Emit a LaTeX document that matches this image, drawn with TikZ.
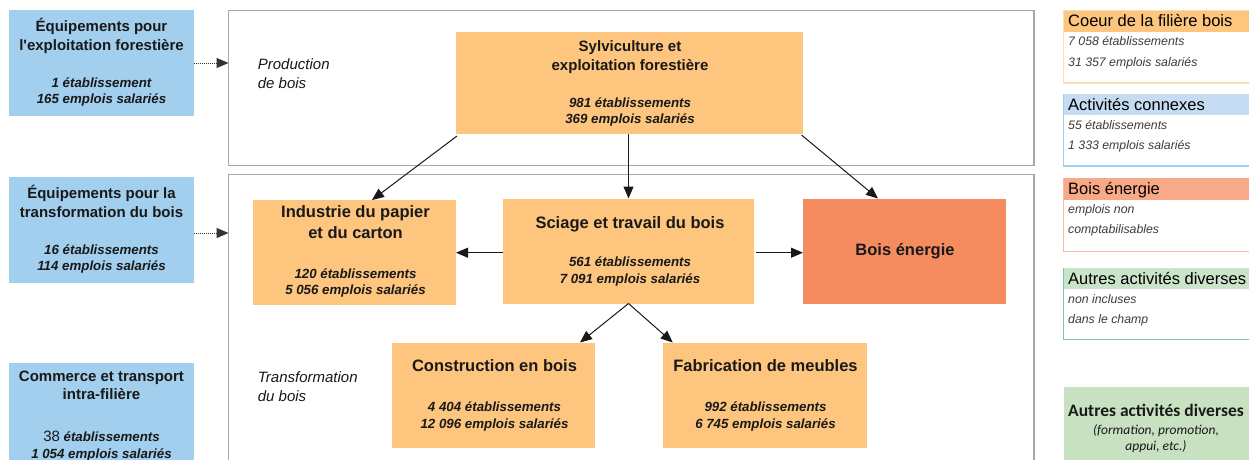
\documentclass[tikz,border=0pt]{standalone}
\usepackage{fontspec}
\setmainfont{Liberation Sans}
\newfontfamily\myriadlike{Carlito}
\usetikzlibrary{arrows.meta}
\definecolor{orbox}{RGB}{253,197,125}
\definecolor{enbox}{RGB}{244,140,95}
\definecolor{blbox}{RGB}{162,207,238}
\definecolor{grbox}{RGB}{199,225,193}
\definecolor{framegray}{RGB}{168,168,168}
\definecolor{lgorbd}{RGB}{252,219,185}
\definecolor{lgblhd}{RGB}{197,220,242}
\definecolor{lgblbd}{RGB}{160,208,240}
\definecolor{lgenhd}{RGB}{248,169,135}
\definecolor{lgenbd}{RGB}{250,185,165}
\definecolor{lggrhd}{RGB}{202,228,202}
\definecolor{lggrbd}{RGB}{125,200,180}
\definecolor{txtdark}{RGB}{25,25,25}
\definecolor{lgtxt}{RGB}{60,60,60}
\tikzset{
  box/.style={draw=none, inner sep=0pt, outer sep=0pt},
  framebox/.style={draw=framegray, line width=1.2pt, inner sep=0pt, outer sep=0pt},
  hd/.style={anchor=base, inner sep=0pt, text=txtdark, font=\fontsize{16.5}{19}\selectfont\bfseries},
  hds/.style={anchor=base, inner sep=0pt, text=txtdark, font=\fontsize{15}{18}\selectfont\bfseries},
  num/.style={anchor=base, inner sep=0pt, text=txtdark, font=\fontsize{13.3}{16}\selectfont\bfseries\itshape},
  lab/.style={anchor=base west, inner sep=0pt, text=txtdark, font=\fontsize{15}{18}\selectfont\itshape},
  lghd/.style={anchor=base west, inner sep=0pt, text=black, font=\fontsize{16.5}{19}\selectfont},
  lgtx/.style={anchor=base west, inner sep=0pt, text=lgtxt, font=\fontsize{12.3}{14}\selectfont\itshape},
  lgbody/.style={fill=white, line width=1.1pt, inner sep=0pt, outer sep=0pt},
  arr/.style={-{Triangle[length=12pt,width=10pt]}, line width=1pt, draw=black!90},
  darr/.style={-{Triangle[length=12pt,width=10pt]}, line width=1pt, draw=black!80, dash pattern=on 1pt off 1pt}
}
\begin{document}
\begin{tikzpicture}[x=1pt,y=-1pt]
\useasboundingbox (0,0) rectangle (1249,459);
\clip (0,0) rectangle (1249,459);
\fill[white] (0,0) rectangle (1249,459);

% frames
\node[framebox, minimum width=805.5pt, minimum height=155pt] (prod) at (631.25,88) {};
\node[framebox, minimum width=805.5pt, minimum height=325.5pt] (trans) at (631.25,337.25) {};
\node[lab] (prodl1) at (257.7,69.3) {Production};
\node[lab] (prodl2) at (257.7,88.3) {de bois};
\node[lab] (transl1) at (257.7,382) {Transformation};
\node[lab] (transl2) at (257.7,401) {du bois};

% left blue boxes
\node[box, fill=blbox, minimum width=185pt, minimum height=106pt] (L1) at (101.5,63) {};
\node[hds] (L1a) at (101.5,31.7) {Équipements pour};
\node[hds] (L1b) at (101.5,50.3) {l\textquotesingle exploitation forestière};
\node[num] (L1c) at (101.5,87.3) {1 établissement};
\node[num] (L1d) at (101.5,103.3) {165 emplois salariés};

\node[box, fill=blbox, minimum width=185pt, minimum height=106pt] (L2) at (101.5,230) {};
\node[hds] (L2a) at (101.5,198.3) {Équipements pour la};
\node[hds] (L2b) at (101.5,217.3) {transformation du bois};
\node[num] (L2c) at (101.5,254.3) {16 établissements};
\node[num] (L2d) at (101.5,270.7) {114 emplois salariés};

\node[box, fill=blbox, minimum width=185pt, minimum height=106pt] (L3) at (101.5,416) {};
\node[hds] (L3a) at (101.5,381) {Commerce et transport};
\node[hds] (L3b) at (101.5,399.5) {intra-filière};
\node[num] (L3c) at (101.5,441.5) {{\fontsize{15}{18}\selectfont\mdseries\upshape 38} établissements};
\node[num] (L3d) at (101.5,458.5) {1 054 emplois salariés};

\draw[darr] (L1.east) -- (L1.east -| prod.west);
\draw[darr] ([yshift=-3pt]L2.east) -- ([yshift=-3pt]L2.east -| trans.west);

% central boxes
\node[box, fill=orbox, minimum width=347pt, minimum height=102pt] (sylv) at (629.5,83) {};
\node[hds] (sylva) at (630,51.3) {Sylviculture et};
\node[hds] (sylvb) at (630,70) {exploitation forestière};
\node[num] (sylvc) at (630,107.7) {981 établissements};
\node[num] (sylvd) at (630,123.3) {369 emplois salariés};

\node[box, fill=orbox, minimum width=203pt, minimum height=105pt] (ind) at (354.5,252.5) {};
\node[hd] (inda) at (355.5,217.3) {Industrie du papier};
\node[hd] (indb) at (355.5,238.3) {et du carton};
\node[num] (indc) at (355.5,278.3) {120 établissements};
\node[num] (indd) at (355.5,294.3) {5 056 emplois salariés};

\node[box, fill=orbox, minimum width=251pt, minimum height=105pt] (sci) at (628.5,251) {};
\node[hd] (scia) at (630,228.3) {Sciage et travail du bois};
\node[num] (scic) at (630,266.7) {561 établissements};
\node[num] (scid) at (630,283.3) {7 091 emplois salariés};

\node[box, fill=enbox, minimum width=203pt, minimum height=105pt] (en) at (904.5,251) {};
\node[hd] (ena) at (905,255) {Bois énergie};

\node[box, fill=orbox, minimum width=203pt, minimum height=105pt] (con) at (493.5,395) {};
\node[hd] (cona) at (494.5,371.7) {Construction en bois};
\node[num] (conc) at (494.5,411.7) {4 404 établissements};
\node[num] (cond) at (494.5,428.3) {12 096 emplois salariés};

\node[box, fill=orbox, minimum width=203.5pt, minimum height=105pt] (fab) at (764.75,395) {};
\node[hd] (faba) at (765.5,371.7) {Fabrication de meubles};
\node[num] (fabc) at (765.5,411.7) {992 établissements};
\node[num] (fabd) at (765.5,428.3) {6 745 emplois salariés};

% arrows
\draw[arr] ([xshift=1pt,yshift=-2pt]sylv.south west) -- ([xshift=17.5pt]ind.north);
\draw[arr] (sylv.south -| sci.north) -- (sci.north);
\draw[arr] ([xshift=-1.5pt,yshift=-1pt]sylv.south east) -- ([xshift=-26.5pt]en.north);
\draw[arr] ([yshift=-1.7pt]sci.west) -- ([yshift=-1.7pt]sci.west -| ind.east);
\draw[arr] ([xshift=2pt,yshift=-1.7pt]sci.east) -- ([yshift=-1.7pt]sci.east -| en.west);
\draw[arr] (sci.south) -- ([xshift=86.5pt]con.north);
\draw[arr] (sci.south) -- ([xshift=-92pt]fab.north);

% legend
\node[lgbody, draw=lgorbd, minimum width=190pt, minimum height=72pt] (lg1) at (1158.5,47) {};
\fill[orbox] (1063.5,11) rectangle (1253.5,32);
\node[lghd] (lg1h) at (1068,26.7) {Coeur de la filière bois};
\node[lgtx] (lg1a) at (1068,45.7) {7 058 établissements};
\node[lgtx] (lg1b) at (1068,66.7) {31 357 emplois salariés};

\node[lgbody, draw=lgblbd, minimum width=190pt, minimum height=71.5pt] (lg2) at (1158.5,130.25) {};
\fill[lgblhd] ([shift={(0.55pt,0.55pt)}]lg2.north west) rectangle (1253.5,115);
\node[lghd] (lg2h) at (1068,110) {Activités connexes};
\node[lgtx] (lg2a) at (1068,129.3) {55 établissements};
\node[lgtx] (lg2b) at (1068,149.3) {1 333 emplois salariés};

\node[lgbody, draw=lgenbd, minimum width=190pt, minimum height=73pt] (lg3) at (1158.5,215) {};
\fill[lgenhd] ([shift={(0.55pt,0.55pt)}]lg3.north west) rectangle (1253.5,200);
\node[lghd] (lg3h) at (1068,194) {Bois énergie};
\node[lgtx] (lg3a) at (1068,213.3) {emplois non};
\node[lgtx] (lg3b) at (1068,233.3) {comptabilisables};

\node[lgbody, draw=lggrbd, minimum width=190pt, minimum height=71pt] (lg4) at (1158.5,304) {};
\fill[lggrhd] ([shift={(0.55pt,0.55pt)}]lg4.north west) rectangle (1253.5,289);
\node[lghd] (lg4h) at (1068,284.3) {Autres activités diverses};
\node[lgtx] (lg4a) at (1068,303.3) {non incluses};
\node[lgtx] (lg4b) at (1068,323.3) {dans le champ};

\node[box, fill=grbox, minimum width=190pt, minimum height=83pt] (lg5) at (1158.5,428.5) {};
\node[anchor=base, inner sep=0pt, text=txtdark, font=\myriadlike\fontsize{17.5}{20}\selectfont\bfseries] (lg5a) at (1156,416.7) {Autres activités diverses};
\node[anchor=base, inner sep=0pt, text=txtdark, font=\myriadlike\fontsize{13.5}{16}\selectfont\itshape] (lg5b) at (1156,434.3) {(formation, promotion,};
\node[anchor=base, inner sep=0pt, text=txtdark, font=\myriadlike\fontsize{13.5}{16}\selectfont\itshape] (lg5c) at (1156,450.5) {appui, etc.)};
\end{tikzpicture}
\end{document}
